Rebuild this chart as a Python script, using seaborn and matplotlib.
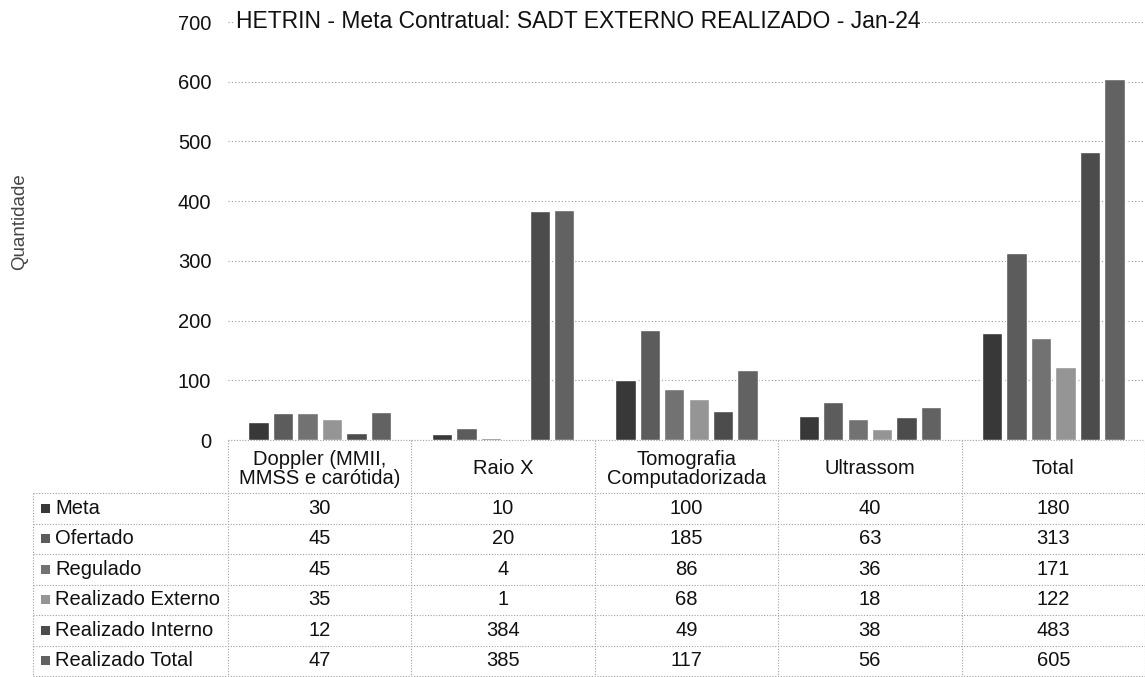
import pandas as pd
import seaborn as sns
import matplotlib.pyplot as plt
import matplotlib.transforms as mtransforms
from matplotlib.patches import Rectangle

sns.set_theme(style="white")
plt.rcParams['font.family'] = ['Liberation Sans', 'DejaVu Sans']

# dados
categorias = ["Doppler (MMII,\nMMSS e carótida)", "Raio X", "Tomografia\nComputadorizada", "Ultrassom", "Total"]
series = ["Meta", "Ofertado", "Regulado", "Realizado Externo", "Realizado Interno", "Realizado Total"]
meta = [30, 10, 100, 40, 180]
ofertado = [45, 20, 185, 63, 313]
regulado = [45, 4, 86, 36, 171]
realizado_externo = [35, 1, 68, 18, 122]
realizado_interno = [12, 384, 49, 38, 483]
realizado_total = [47, 385, 117, 56, 605]
cores = ["#383838", "#5c5c5c", "#727272", "#959595", "#4c4c4c", "#626262"]

valores = [meta, ofertado, regulado, realizado_externo, realizado_interno, realizado_total]
linhas = []
for s, vals in zip(series, valores):
    for c, v in zip(categorias, vals):
        linhas.append({"cat": c, "serie": s, "valor": v})
df = pd.DataFrame(linhas)

W, H = 1145, 677
fig = plt.figure(figsize=(W / 100, H / 100), dpi=100)

def fy(py):
    return 1 - py / H

ax_left, ax_right = 228, 1145
ax_top, ax_bot = 22, 440
ax = fig.add_axes([ax_left / W, fy(ax_bot), (ax_right - ax_left) / W, (ax_bot - ax_top) / H])

sns.barplot(data=df, x="cat", y="valor", hue="serie", order=categorias, hue_order=series,
            palette=cores, width=0.8, gap=0.17, legend=False, ax=ax, saturation=1)

ax.set_ylim(0, 700)
ncat = len(categorias)
px_per_cat = (ax_right - ax_left) / ncat
ax.set_xlim(-0.5, ncat - 0.5)
ax.set_yticks(range(0, 701, 100))
ax.yaxis.grid(True, linestyle=(0, (1, 2)), color="#9a9a9a", linewidth=0.8)
ax.set_axisbelow(True)
for sp in ax.spines.values():
    sp.set_visible(False)
ax.set_xticks([])
ax.set_xlabel("")
ax.set_ylabel("")
ax.tick_params(axis="y", length=0, pad=12, labelsize=14.5, labelcolor="#111111")

fig.text(20 / W, fy(222), "Quantidade", rotation=90, ha="center", va="center",
         fontsize=13.5, color="#444444")
fig.text(578 / W, fy(21), "HETRIN - Meta Contratual: SADT EXTERNO REALIZADO - Jan-24",
         ha="center", va="center", fontsize=16.5, color="#111111",
         bbox=dict(facecolor="white", edgecolor="none", pad=1))

# tabela de dados
tr = mtransforms.blended_transform_factory(ax.transData, fig.transFigure)
lc = dict(color="#a0a0a0", linestyle=(0, (1, 1.5)), linewidth=0.8, clip_on=False)
hdr_top, hdr_bot = 440, 493
row_h = 30.5
y_rows = [hdr_bot + i * row_h for i in range(len(series) + 1)]
x0 = -0.5 - (ax_left - 33) / px_per_cat
x1 = ncat - 0.5

ax.plot([-0.5, x1], [fy(hdr_top)] * 2, transform=tr, **lc)
for y in y_rows:
    ax.plot([x0, x1], [fy(y)] * 2, transform=tr, **lc)
for i in range(ncat + 1):
    ax.plot([i - 0.5] * 2, [fy(hdr_top), fy(y_rows[-1])], transform=tr, **lc)
ax.plot([x0] * 2, [fy(hdr_bot), fy(y_rows[-1])], transform=tr, **lc)

for i, c in enumerate(categorias):
    ax.text(i, fy(469), c, transform=tr, ha="center", va="center",
            fontsize=14.5, color="#111111", linespacing=0.95)

for r, (s, vals, cor) in enumerate(zip(series, valores, cores)):
    yc = fy(y_rows[r] + row_h / 2)
    ax.add_patch(Rectangle((x0 + 8 / px_per_cat, yc - 4.5 / H), 9 / px_per_cat, 9 / H,
                           transform=tr, facecolor=cor, edgecolor="none", clip_on=False))
    ax.text(x0 + 22 / px_per_cat, yc, s, transform=tr, ha="left", va="center",
            fontsize=14.5, color="#111111")
    for i, v in enumerate(vals):
        ax.text(i, yc, str(v), transform=tr, ha="center", va="center",
                fontsize=14.5, color="#111111")

fig.savefig("out.png", dpi=100)
